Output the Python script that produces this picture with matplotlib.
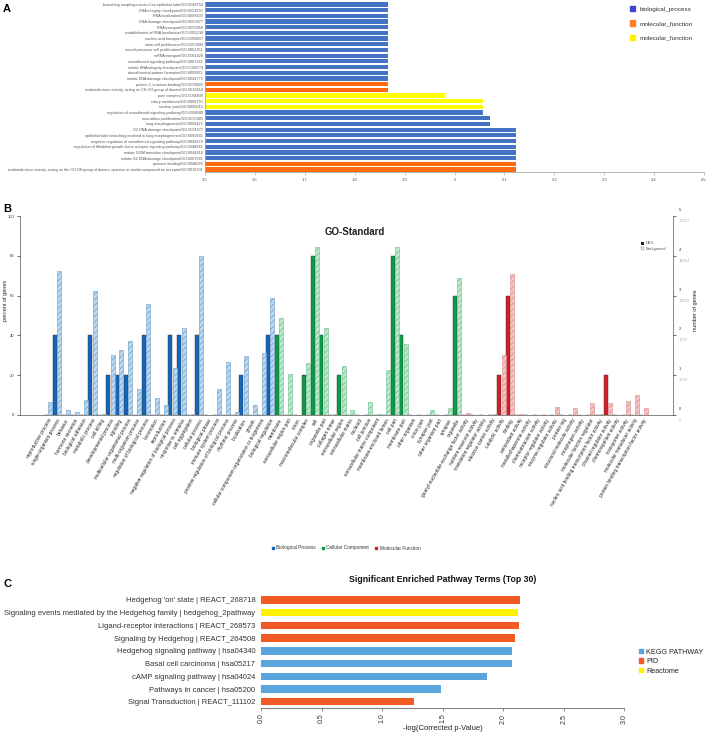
import matplotlib
matplotlib.use("Agg")
import matplotlib.pyplot as plt
from matplotlib.patches import Patch
from matplotlib.lines import Line2D

plt.rcParams["font.family"] = ["Liberation Sans", "DejaVu Sans"]
plt.rcParams["hatch.linewidth"] = 0.5

W, H = 709, 735

# ---------------- panel A: GO terms ----------------
go_terms = [
    "branching morphogenesis of an epithelial tube/GO:0048754",
    "DNA integrity checkpoint/GO:0031570",
    "RNA localization/GO:0006403",
    "DNA damage checkpoint/GO:0000077",
    "RNA transport/GO:0050658",
    "establishment of RNA localization/GO:0051236",
    "nucleic acid transport/GO:0050657",
    "stem cell proliferation/GO:0072089",
    "neural precursor cell proliferation/GO:0061351",
    "mRNA transport/GO:0051028",
    "smoothened signaling pathway/GO:0007224",
    "mitotic DNA integrity checkpoint/GO:0044774",
    "dorsal/ventral pattern formation/GO:0009953",
    "mitotic DNA damage checkpoint/GO:0044773",
    "protein C-terminus binding/GO:0008022",
    "oxidoreductase activity, acting on CH-OH group of donors/GO:0016614",
    "pore complex/GO:0046930",
    "ciliary membrane/GO:0060170",
    "nuclear pore/GO:0005643",
    "regulation of smoothened signaling pathway/GO:0008589",
    "neuroblast proliferation/GO:0007405",
    "lung morphogenesis/GO:0060425",
    "G2 DNA damage checkpoint/GO:0031572",
    "epithelial tube branching involved in lung morphogenesis/GO:0060441",
    "negative regulation of smoothened signaling pathway/GO:0045879",
    "regulation of fibroblast growth factor receptor signaling pathway/GO:0040036",
    "mitotic G2/M transition checkpoint/GO:0044818",
    "mitotic G2 DNA damage checkpoint/GO:0007095",
    "quinone binding/GO:0048038",
    "oxidoreductase activity, acting on the CH-OH group of donors, quinone or similar compound as acceptor/GO:0016901",
]
go_values = [1.866] * 16 + [1.98, 2.058, 2.058, 2.058, 2.071, 2.071] + [2.123] * 8
go_kinds = ["bp"] * 14 + ["mf"] * 2 + ["cc"] * 3 + ["bp"] * 9 + ["mf"] * 2
go_colors = {"bp": "#4472C4", "mf": "#FF6A10", "cc": "#FFFF00"}
go_legend = ["biological_process", "molecular_function", "molecular_function"]
go_legend_colors = ["#3F48CC", "#FF7F27", "#FFF200"]

# ---------------- panel B: GO-Standard ----------------
bp_terms = [
    "reproductive process", "single-organism process", "behavior", "hormone secretion",
    "biological adhesion", "metabolic process", "cell killing", "developmental process",
    "signaling", "multicellular organismal process", "multi-organism process",
    "regulation of biological process", "locomotion", "reproduction",
    "negative regulation of biological process", "response to stimulus", "cell aggregation",
    "cellular process", "biological phase", "immune system process",
    "positive regulation of biological process", "rhythmic process", "localization", "growth",
    "cellular component organization or biogenesis", "biological regulation",
]
bp_deg = [0, 40, 0, 0, 0, 40, 0, 20, 20, 20, 0, 40, 0, 0, 40, 40, 0, 40, 0, 0, 0, 0, 20, 0, 0, 40]
bp_bg = [6.5, 72.5, 2.5, 1.5, 7.5, 62.5, 0.5, 30, 32.5, 37, 13, 56, 8.5, 5, 23.5, 43.5, 0.3,
         80, 0, 13, 26.5, 1.5, 29.5, 5, 31, 59]

cc_terms = [
    "membrane", "extracellular region part", "virion", "macromolecular complex", "cell",
    "organelle part", "collagen trimer", "extracellular region", "extracellular matrix",
    "nucleoid", "cell junction", "extracellular matrix component", "membrane-enclosed lumen",
    "cell part", "membrane part", "other organism", "virion part", "synapse part",
    "other organism part", "synapse", "organelle",
]
cc_deg = [40, 0, 0, 20, 80, 40, 0, 20, 0, 0, 0, 0, 0, 80, 40, 0, 0, 0, 0, 0, 60]
cc_bg = [48.5, 20.5, 0, 26, 84.5, 43.5, 0.5, 24.5, 2.5, 0.2, 6.3, 0.5, 22.8, 84.5, 35.7,
         0, 0, 2.5, 0, 3.3, 68.8]

mf_terms = [
    "guanyl-nucleotide exchange factor activity", "nutrient reservoir activity",
    "translation regulator activity", "electron carrier activity", "catalytic activity",
    "binding", "antioxidant activity", "metallochaperone activity", "chemoattractant activity",
    "receptor regulator activity", "enzyme regulator activity", "protein tag",
    "structural molecule activity", "morphogen activity", "molecular function regulator",
    "nucleic acid binding transcription factor activity", "channel regulator activity",
    "chemorepellent activity", "transporter activity", "molecular transducer activity",
    "protein binding transcription factor activity",
]
mf_deg = [0, 0, 0, 0, 20, 60, 0, 0, 0, 0, 0, 0, 0, 0, 0, 0, 20, 0, 0, 0, 0]
mf_bg = [1.2, 0, 0, 0.3, 30.3, 70.8, 0.3, 0, 0, 0.1, 4.2, 0, 3.3, 0, 5.8, 0.3, 6.2, 0, 7,
         10.3, 3.3]

pct_ticks = [0, 20, 40, 60, 80, 100]
deg_count_labels = ["0", "1", "2", "3", "4", "5"]
bg_count_labels = ["0", "3503", "7007", "10510", "14014", "17517"]
ontologies = ["Biological Process", "Cellular Component", "Molecular Function"]

# ---------------- panel C: pathways ----------------
path_terms = [
    "Hedgehog 'on' state | REACT_268718",
    "Signaling events mediated by the Hedgehog family | hedgehog_2pathway",
    "Ligand-receptor interactions | REACT_268573",
    "Signaling by Hedgehog | REACT_264508",
    "Hedgehog signaling pathway | hsa04340",
    "Basal cell carcinoma | hsa05217",
    "cAMP signaling pathway | hsa04024",
    "Pathways in cancer | hsa05200",
    "Signal Transduction | REACT_111102",
]
path_values = [2.139, 2.12, 2.13, 2.097, 2.074, 2.069, 1.869, 1.489, 1.261]
path_source = ["PID", "Reactome", "PID", "PID", "KEGG PATHWAY", "KEGG PATHWAY",
               "KEGG PATHWAY", "KEGG PATHWAY", "PID"]
source_names = ["KEGG PATHWAY", "PID", "Reactome"]
source_colors = {"KEGG PATHWAY": "#5BA5DE", "PID": "#F15A22", "Reactome": "#FFF200"}


def px_rect(x0, y0, x1, y1):
    return [x0 / W, 1 - y1 / H, (x1 - x0) / W, (y1 - y0) / H]


fig = plt.figure(figsize=(W / 100, H / 100), dpi=100)

# ===== A =====
axA = fig.add_axes(px_rect(205, 1.55, 704, 172.35))
ya = list(range(len(go_terms)))
axA.barh(ya, [v - 1.5 for v in go_values], left=1.5, height=0.74,
         color=[go_colors[k] for k in go_kinds])
axA.set_xlim(1.5, 2.5)
axA.set_ylim(len(go_terms) - 0.5, -0.5)
axA.set_yticks(ya)
axA.set_yticklabels(go_terms, fontsize=2.7, color="#555555")
xt = [1.5 + 0.1 * i for i in range(11)]
axA.set_xticks(xt)
axA.set_xticklabels([f"{round(v, 1):g}" for v in xt], fontsize=3, color="#555555")
axA.tick_params(axis="y", length=0, pad=1.5)
axA.tick_params(axis="x", length=2, width=0.4, color="#999999", pad=2)
for s in ["top", "right"]:
    axA.spines[s].set_visible(False)
for s in ["left", "bottom"]:
    axA.spines[s].set_color("#aaaaaa")
    axA.spines[s].set_linewidth(0.6)
fig.legend([Patch(color=c) for c in go_legend_colors], go_legend, loc="upper left",
           bbox_to_anchor=(624 / W, 1 - 0 / H), frameon=False, fontsize=4.6,
           handlelength=0.8, handleheight=0.9, labelspacing=1.35, handletextpad=0.8,
           labelcolor="#333333")
fig.text(3 / W, 1 - 9 / H, "A", fontsize=8, fontweight="bold", va="center")

# ===== B =====
axB = fig.add_axes(px_rect(20, 216, 673, 415))
terms = bp_terms + cc_terms + mf_terms
deg = bp_deg + cc_deg + mf_deg
bg = bp_bg + cc_bg + mf_bg
deg_c = ["#1466B8"] * len(bp_terms) + ["#0B9A48"] * len(cc_terms) + ["#D01F28"] * len(mf_terms)
bg_c = ["#BCD9F1"] * len(bp_terms) + ["#BFE9CF"] * len(cc_terms) + ["#F7C4C4"] * len(mf_terms)
bg_e = ["#6D9CC8"] * len(bp_terms) + ["#6CBF8C"] * len(cc_terms) + ["#D98C8C"] * len(mf_terms)
xb = list(range(len(terms)))
axB.bar([x - 0.245 for x in xb], deg, width=0.45, color=deg_c, edgecolor="#333333", linewidth=0.3)
axB.bar([x + 0.245 for x in xb], bg, width=0.45, color=bg_c, edgecolor=bg_e,
        hatch="//////", linewidth=0.4)
axB.set_xlim(-3.17, 70.32)
axB.set_ylim(0, 100)
axB.set_xticks(xb)
axB.set_xticklabels(terms, rotation=60, ha="right", rotation_mode="anchor",
                    fontsize=3.4, color="#222222")
axB.tick_params(axis="x", length=0, pad=2)
axB.set_yticks(pct_ticks)
axB.set_yticklabels([str(v) for v in pct_ticks], fontsize=3, color="#333333")
axB.tick_params(axis="y", length=2, width=0.4, pad=2, right=True)
axB.spines["top"].set_visible(False)
for s in ["left", "bottom", "right"]:
    axB.spines[s].set_color("#555555")
    axB.spines[s].set_linewidth(0.5)
fig.text(6 / W, 1 - 300 / H, "percent of genes", rotation=90, fontsize=4,
         ha="center", va="center", color="#222222")
for v, a, b in zip(pct_ticks, deg_count_labels, bg_count_labels):
    axB.annotate(a, xy=(1, v), xycoords=("axes fraction", "data"), xytext=(4, 4.3),
                 textcoords="offset points", fontsize=3, color="#333333", va="center")
    axB.annotate(b, xy=(1, v), xycoords=("axes fraction", "data"), xytext=(4, -3.6),
                 textcoords="offset points", fontsize=3, color="#b0b0b0", va="center")
fig.text(695 / W, 1 - 310 / H, "number of genes", rotation=90, fontsize=4,
         ha="center", va="center", color="#222222")
fig.text(355 / W, 1 - 232 / H, "GO-Standard", fontsize=7, fontweight="bold",
         ha="center", va="center", color="#222222")
fig.legend([Patch(facecolor="#222222"),
            Patch(facecolor="#e6e6e6", edgecolor="#999999", hatch="//////", linewidth=0.3)],
           ["DEG", "Background"], loc="upper left", bbox_to_anchor=(637 / W, 1 - 238 / H),
           frameon=False, fontsize=2.8, handlelength=0.8, handleheight=0.8,
           labelspacing=0.4, handletextpad=0.5, labelcolor="#555555")
fig.legend([Line2D([], [], ls="", marker="s", markersize=2, color=c)
            for c in ["#1466B8", "#0B9A48", "#D01F28"]],
           ontologies, loc="center", bbox_to_anchor=(346 / W, 1 - 548 / H), ncol=3,
           frameon=False, fontsize=3.4, handlelength=0.6, handletextpad=0.4,
           columnspacing=1.2, labelcolor="#333333")
fig.text(3 / W, 1 - 209 / H, "B", fontsize=8, fontweight="bold", va="center")

# ===== C =====
axC = fig.add_axes(px_rect(261, 593.6, 624.3, 708.1))
yc = list(range(len(path_terms)))
axC.barh(yc, path_values, height=0.58, color=[source_colors[s] for s in path_source])
axC.set_xlim(0, 3)
axC.set_ylim(len(path_terms) - 0.5, -0.5)
axC.set_yticks(yc)
axC.set_yticklabels(path_terms, fontsize=5.5, color="#333333")
axC.tick_params(axis="y", length=0, pad=4)
ct = [0, 0.5, 1.0, 1.5, 2.0, 2.5, 3.0]
axC.set_xticks(ct)
axC.set_xticklabels([f"{v:.1f}" for v in ct], rotation=90, fontsize=5, color="#333333")
axC.tick_params(axis="x", length=2.5, width=0.5, color="#666666", pad=1.5)
for s in ["left", "top", "right"]:
    axC.spines[s].set_visible(False)
axC.spines["bottom"].set_color("#666666")
axC.spines["bottom"].set_linewidth(0.6)
axC.set_xlabel("-log(Corrected p-Value)", fontsize=5.5, labelpad=1, color="#222222")
fig.text(443 / W, 1 - 580 / H, "Significant Enriched Pathway Terms (Top 30)",
         fontsize=6.3, fontweight="bold", ha="center", va="center", color="#111111")
fig.legend([Patch(color=source_colors[s]) for s in source_names], source_names,
           loc="upper left", bbox_to_anchor=(632 / W, 1 - 642 / H), frameon=False,
           fontsize=5.2, handlelength=0.6, handleheight=0.6, labelspacing=0.35,
           handletextpad=0.5, labelcolor="#222222")
fig.text(3 / W, 1 - 584 / H, "C", fontsize=8, fontweight="bold", va="center")

fig.savefig("out.png", dpi=100)
